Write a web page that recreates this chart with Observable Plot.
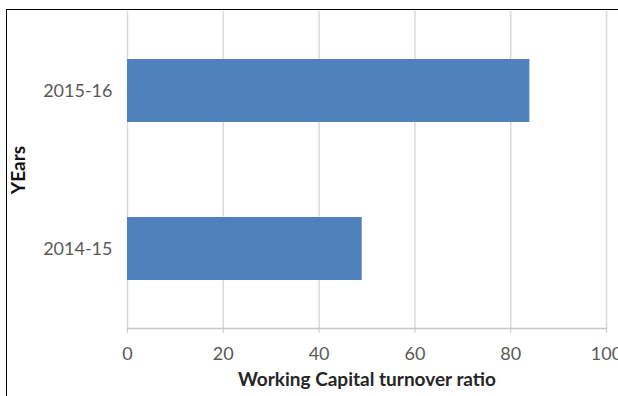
<!DOCTYPE html>
<html>
<head>
<meta charset="utf-8">
<script src="https://cdn.jsdelivr.net/npm/d3@7"></script>
<script src="https://cdn.jsdelivr.net/npm/@observablehq/plot@0.6"></script>
<style>
  body { margin: 0; background: #fff; }
  #chart { position: relative; width: 618px; height: 396px; overflow: hidden; }
  #chart svg { display: block; }
  #edge {
    position: absolute; left: 6px; top: 9px; right: -10px; bottom: -10px;
    border-left: 1px solid #000; border-top: 1px solid #000; pointer-events: none;
  }
</style>
</head>
<body>
<div id="chart"></div>
<script>
// Working capital turnover ratio by financial year
const years = ["2015-16", "2014-15"];
const ratios = [84, 49];
const xTicks = [0, 20, 40, 60, 80, 100];
const xTitle = "Working Capital turnover ratio";
const yTitle = "YEars";

const rows = years.map((year, i) => ({year, ratio: ratios[i]}));

const chart = Plot.plot({
  width: 618,
  height: 396,
  marginLeft: 127,
  marginRight: 12,
  marginTop: 11,
  marginBottom: 68,
  style: {fontFamily: "Lato, 'Open Sans', sans-serif", fontSize: "18px", background: "transparent"},
  x: {domain: [0, 100]},
  y: {domain: years, paddingInner: 0.6, paddingOuter: 0.3},
  marks: [
    Plot.gridX({ticks: xTicks, stroke: "#d9d9d9", strokeOpacity: 1, strokeWidth: 1.5}),
    Plot.frame({anchor: "bottom", stroke: "#c8c8c8", strokeWidth: 1.5}),
    Plot.barX(rows, {x: "ratio", y: "year", fill: "#4f81bd"}),
    Plot.axisX({ticks: xTicks, tickSize: 5, tickPadding: 14, stroke: "#c8c8c8", fill: "#595959", label: null}),
    Plot.axisY({tickSize: 0, tickPadding: 15, fill: "#595959", label: null}),
    Plot.text([xTitle], {frameAnchor: "bottom", dy: 57, fontWeight: "bold", fontSize: 19, fill: "#262626"}),
    Plot.text([yTitle], {frameAnchor: "left", textAnchor: "middle", dx: -109, rotate: -90, fontWeight: "bold", fontSize: 19, fill: "#111"})
  ]
});

const host = document.getElementById("chart");
host.appendChild(chart);
const edge = document.createElement("div");
edge.id = "edge";
host.appendChild(edge);
</script>
</body>
</html>
